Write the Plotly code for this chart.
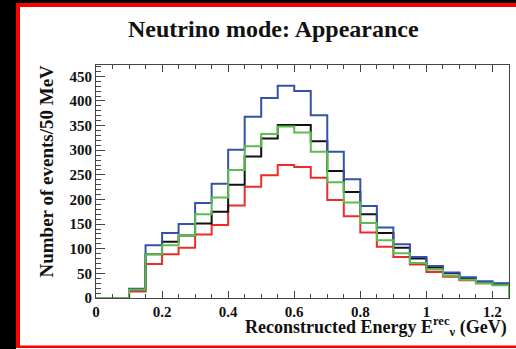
import plotly.graph_objects as go

# ---- data (events per 50 MeV bin, 0 to 1.25 GeV) ----
bin_width = 0.05
n_bins = 25
blue_vals = [0, 0, 19, 107, 132, 150, 193, 232, 301, 368, 406, 431, 420, 371, 297,
             241, 187, 143, 109, 83, 65, 52, 42, 34, 30]
black_vals = [0, 0, 17, 89, 114, 127, 151, 175, 230, 287, 324, 351, 351, 318, 258,
              215, 170, 132, 102, 80, 62, 50, 40, 32, 29]
green_vals = [0, 0, 17, 89, 107, 127, 170, 204, 260, 308, 333, 348, 336, 297, 235,
              194, 152, 117, 91, 71, 58, 45, 37, 30, 26]
red_vals = [0, 0, 13, 69, 89, 102, 129, 148, 188, 226, 249, 270, 266, 244, 199,
            166, 133, 104, 83, 68, 53, 43, 36, 30, 27]

x_tick_vals = [0, 0.2, 0.4, 0.6, 0.8, 1.0, 1.2]
x_tick_text = ["0", "0.2", "0.4", "0.6", "0.8", "1", "1.2"]
y_tick_vals = [0, 50, 100, 150, 200, 250, 300, 350, 400, 450]

title_text = "Neutrino mode: Appearance"
y_title = "Number of events/50 MeV"
x_title = "Reconstructed Energy E<sup>rec</sup><sub>ν</sub> (GeV)"

series = [
    ("red", red_vals, "#ee2b2b"),
    ("black", black_vals, "#111111"),
    ("blue", blue_vals, "#3453a8"),
    ("green", green_vals, "#5cbd4e"),
]

edges = [i * bin_width for i in range(n_bins + 1)]

FONT = "Liberation Serif"
W, H = 516, 349
L, R, T, B = 96, 7, 65, 51

fig = go.Figure()
for name, vals, col in series:
    xs = edges + [edges[-1]]
    ys = list(vals) + [vals[-1], 0]
    fig.add_trace(go.Scatter(x=xs, y=ys, mode="lines", line=dict(color=col, width=2, shape="hv"),
                             name=name, showlegend=False, hoverinfo="skip"))

pw = W - L - R
ph = H - T - B


def px2x(px):
    return (px - L) / pw


def py2y(py):
    return (H - B - py) / ph


def rect(x0, y0, x1, y1, color):
    return dict(type="rect", xref="paper", yref="paper",
                x0=px2x(x0), x1=px2x(x1), y0=py2y(y0), y1=py2y(y1),
                fillcolor=color, line=dict(width=0), layer="above")


shapes = [
    rect(0, 0, 16, H, "#000000"),
    rect(0, 0, W, 3, "#000000"),
    rect(16, 3, 20, 348, "#ff0000"),
    rect(16, 3, W, 7, "#ff0000"),
    rect(16, 345.5, W, 348, "#ff0000"),
]

fig.update_layout(
    width=W, height=H, autosize=False,
    margin=dict(l=L, r=R, t=T, b=B, pad=0),
    paper_bgcolor="white", plot_bgcolor="white",
    shapes=shapes,
    font=dict(family=FONT, color="black"),
    annotations=[
        dict(text=title_text, xref="paper", yref="paper", x=px2x(273.5), y=py2y(29),
             xanchor="center", yanchor="middle", showarrow=False,
             font=dict(family=FONT, size=24, weight=700, color="#111")),
        dict(text=y_title, xref="paper", yref="paper", x=px2x(45.5), y=py2y(171),
             xanchor="center", yanchor="middle", textangle=-90, showarrow=False,
             font=dict(family=FONT, size=19, weight=700, color="#111")),
        dict(text=x_title, xref="paper", yref="paper", x=px2x(509), y=py2y(326),
             xanchor="right", yanchor="middle", showarrow=False,
             font=dict(family=FONT, size=18, weight=700, color="#111")),
    ],
)

fig.update_xaxes(
    range=[0, 1.25], tickvals=x_tick_vals, ticktext=x_tick_text,
    ticks="inside", ticklen=7, tickwidth=1, tickcolor="#444",
    minor=dict(dtick=0.05, ticks="inside", ticklen=4, tickcolor="#444", showgrid=False),
    showline=True, linecolor="#444", linewidth=1, mirror="ticks",
    showgrid=False, zeroline=False,
    tickfont=dict(family=FONT, size=15, weight=700, color="#111"),
)
fig.update_yaxes(
    range=[0, 473], tickvals=y_tick_vals,
    ticks="inside", ticklen=9, tickwidth=1, tickcolor="#444",
    minor=dict(dtick=10, ticks="inside", ticklen=5, tickcolor="#444", showgrid=False),
    showline=True, linecolor="#444", linewidth=1, mirror=True,
    showgrid=False, zeroline=False,
    tickfont=dict(family=FONT, size=15, weight=700, color="#111"),
)

fig.write_html("out.html", config={"displayModeBar": False},
               post_script="document.body.style.margin='0';document.body.style.overflow='hidden';")
